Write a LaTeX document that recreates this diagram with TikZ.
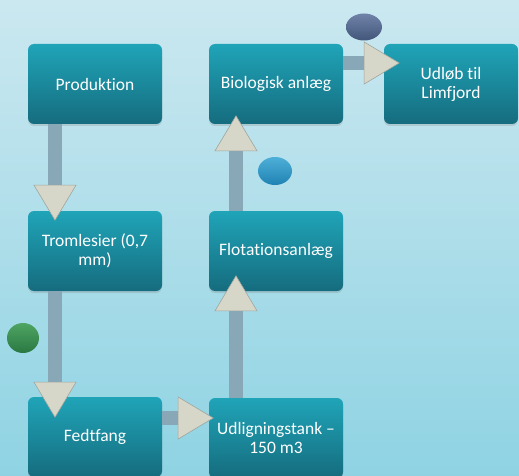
\documentclass[tikz,border=0pt]{standalone}
\usepackage{fontspec}
\setmainfont{Carlito}[Ligatures=NoCommon]
\usetikzlibrary{arrows.meta,shapes.geometric,shadows}
\definecolor{bgtop}{RGB}{203,232,240}
\definecolor{bgbot}{RGB}{143,211,227}
\definecolor{boxtop}{RGB}{32,164,184}
\definecolor{boxbot}{RGB}{21,108,126}
\definecolor{barcol}{RGB}{136,168,184}
\definecolor{tipcol}{RGB}{214,215,200}
\definecolor{tipline}{RGB}{160,165,158}
\tikzset{
  every picture/.style={line join=round, >=Stealth},
  box/.style={rectangle, rounded corners=6pt, minimum width=134pt, minimum height=80pt,
    top color=boxtop, bottom color=boxbot, text=white, align=center,
    font=\fontsize{17.5}{19}\selectfont,
    drop shadow={opacity=0.25, shadow xshift=0pt, shadow yshift=-2pt}},
  bar/.style={draw=barcol, line width=14pt,
    -{Triangle[length=36pt, width=43pt, fill=tipcol, color=tipline, line width=0.6pt]}},
  dot/.style={ellipse, inner sep=0pt},
}

\begin{document}
\begin{tikzpicture}[x=1pt,y=-1pt]
\useasboundingbox (0,0) rectangle (519,476);
\clip (0,0) rectangle (519,476);
\shade[top color=bgtop, bottom color=bgbot] (0,0) rectangle (519,476);
% the seven steps
\node[box] (prod) at (95,84) {Produktion};
\node[box] (bio) at (276,84) {Biologisk anlæg};
\node[box] (udlob) at (451,84) {Udløb til\\Limfjord};
\node[box] (trom) at (95,251) {Tromlesier (0,7\\mm)};
\node[box] (flot) at (276,251) {Flotationsanlæg};
\node[box] (fedt) at (95,437) {Fedtfang};
\node[box] (udlign) at (276,438) {Udligningstank –\\150 m3};
% flow between the steps
\draw[bar, shorten >=-10pt] ([xshift=-40pt]prod.south) -- ([xshift=-40pt]trom.north);
\draw[bar, shorten >=-21pt] ([xshift=-40pt]trom.south) -- ([xshift=-40pt]fedt.north);
\draw[bar, shorten >=-5pt] ([yshift=19pt]fedt.east) -- ([yshift=20pt]udlign.west);
\draw[bar, shorten >=-16pt] ([xshift=-40pt]udlign.north) -- ([xshift=-40pt]flot.south);
\draw[bar, shorten >=-9pt] ([xshift=-40pt]flot.north) -- ([xshift=-40pt]bio.south);
\draw[bar, shorten >=-16pt] ([yshift=21pt]bio.east) -- ([yshift=21pt]udlob.west);
% markers
\node[dot, minimum width=36pt, minimum height=27pt, top color={rgb,255:red,112;green,130;blue,168},
  bottom color={rgb,255:red,66;green,86;blue,122}] (mark1) at (364,27) {};
\node[dot, minimum width=34pt, minimum height=28pt, top color={rgb,255:red,78;green,176;blue,216},
  bottom color={rgb,255:red,32;green,130;blue,178}] (mark2) at (275,171) {};
\node[dot, minimum width=32pt, minimum height=30pt, top color={rgb,255:red,78;green,165;blue,98},
  bottom color={rgb,255:red,42;green,120;blue,66}] (mark3) at (23,338) {};
\end{tikzpicture}
\end{document}
